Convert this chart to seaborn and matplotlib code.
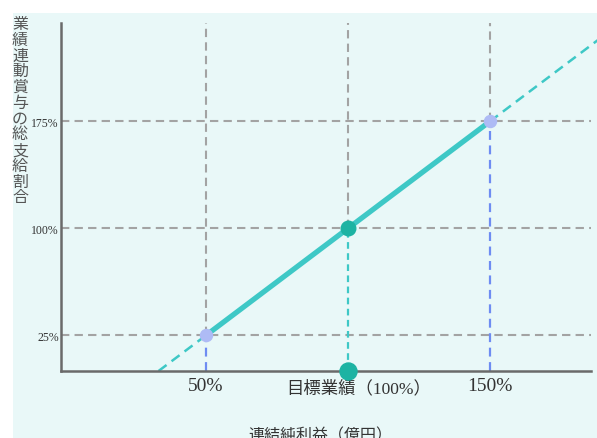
import matplotlib
matplotlib.use("Agg")
import matplotlib.pyplot as plt
from matplotlib.patches import Rectangle
from matplotlib.transforms import ScaledTranslation
import seaborn as sns
import pandas as pd

sns.set_theme(style="white")
plt.rcParams["font.family"] = ["Liberation Serif", "Noto Sans CJK JP", "DejaVu Sans"]

# Performance (% of target) vs. total payout ratio (%)
perf = [50, 100, 150]
payout = [25, 100, 175]
# dashed extensions of the payout line beyond the band
ext_low_x = [33.3, 50]
ext_low_y = [0, 25]
ext_high_x = [150, 192]
ext_high_y = [175, 238]
y_ticks = [25, 100, 175]
y_tick_labels = ["25%", "100%", "175%"]
x_tick_labels = ["50%", "目標業績（100%）", "150%"]
y_title = "業績連動賞与の総支給割合"
x_title = "連結純利益（億円）"

teal = "#3EC8C6"
dark_teal = "#1DB3A3"
lilac = "#AEBBF5"
blue_dash = "#6E8CF2"
grid_gray = "#A3A3A3"
bg = "#E9F8F8"

fig = plt.figure(figsize=(5.97, 4.39), dpi=100)
fig.patch.set_facecolor("white")
fig.patches.append(Rectangle((13 / 597, 0), 1, 1 - 14 / 439,
                             transform=fig.transFigure, facecolor=bg,
                             edgecolor="none", zorder=-10))

W, H = 597, 439
ax = fig.add_axes([61 / W, 1 - 372 / H, (591 - 61) / W, (372 - 24) / H])
ax.set_facecolor("none")
x_lo, x_hi = -1.06, 185.6
ax.set_xlim(x_lo, x_hi)
ax.set_ylim(0, 244)

df = pd.DataFrame({"perf": perf, "payout": payout})

# grey reference grid (dashed) above each marker
for x, y in zip(perf, payout):
    ax.plot([x, x], [y, 244], color=grid_gray, lw=1.5, ls=(0, (4, 2.5)), zorder=1)
for y in y_ticks:
    ax.plot([x_lo, x_hi], [y, y], color=grid_gray, lw=1.5, ls=(0, (4, 2.5)), zorder=1)

# drop lines from the markers to the x-axis
ax.plot([perf[0], perf[0]], [0, payout[0]], color=blue_dash, lw=1.6, ls=(0, (4, 2.5)), zorder=2)
ax.plot([perf[2], perf[2]], [0, payout[2]], color=blue_dash, lw=1.6, ls=(0, (4, 2.5)), zorder=2)
ax.plot([perf[1], perf[1]], [0, payout[1]], color=teal, lw=1.6, ls=(0, (3, 2)), zorder=2)

# dashed extensions
ax.plot(ext_low_x, ext_low_y, color=teal, lw=1.8, ls=(0, (4, 2.5)), zorder=2)
ax.plot(ext_high_x, ext_high_y, color=teal, lw=1.8, ls=(0, (4, 2.5)), zorder=2, clip_on=False)

# payout band
sns.lineplot(data=df, x="perf", y="payout", color=teal, lw=3.8, ax=ax, zorder=3)
ax.scatter([perf[0], perf[2]], [payout[0], payout[2]], s=75, color=lilac, zorder=4)
ax.scatter([perf[1]], [payout[1]], s=110, color=dark_teal, zorder=4)
ax.scatter([perf[1]], [0], s=150, color=dark_teal, zorder=5, clip_on=False)

for side in ["top", "right"]:
    ax.spines[side].set_visible(False)
for side in ["left", "bottom"]:
    ax.spines[side].set_color("#6A6A6A")
    ax.spines[side].set_linewidth(1.8)

ax.set_yticks(y_ticks, y_tick_labels)
ax.set_xticks(perf, x_tick_labels)
ax.tick_params(axis="both", length=0)
ax.tick_params(axis="y", pad=1.5, labelsize=8.5, colors="#333333")
ax.tick_params(axis="x", pad=4, colors="#333333")
for lbl, fs in zip(ax.get_xticklabels(), [14, 12.5, 14]):
    lbl.set_fontsize(fs)
mid = ax.get_xticklabels()[1]
mid.set_transform(mid.get_transform() + ScaledTranslation(11 / 100, -3 / 100, fig.dpi_scale_trans))
ax.set_xlabel("")
ax.set_ylabel("")

fig.text(20 / W, 1 - 17 / H, "\n".join(y_title), ha="center", va="top",
         fontsize=11.5, color="#555555", linespacing=0.98)
fig.text(320 / W, 1 - 428 / H, x_title, ha="center", va="top",
         fontsize=11.5, color="#333333")

fig.savefig("out.png", dpi=100)
